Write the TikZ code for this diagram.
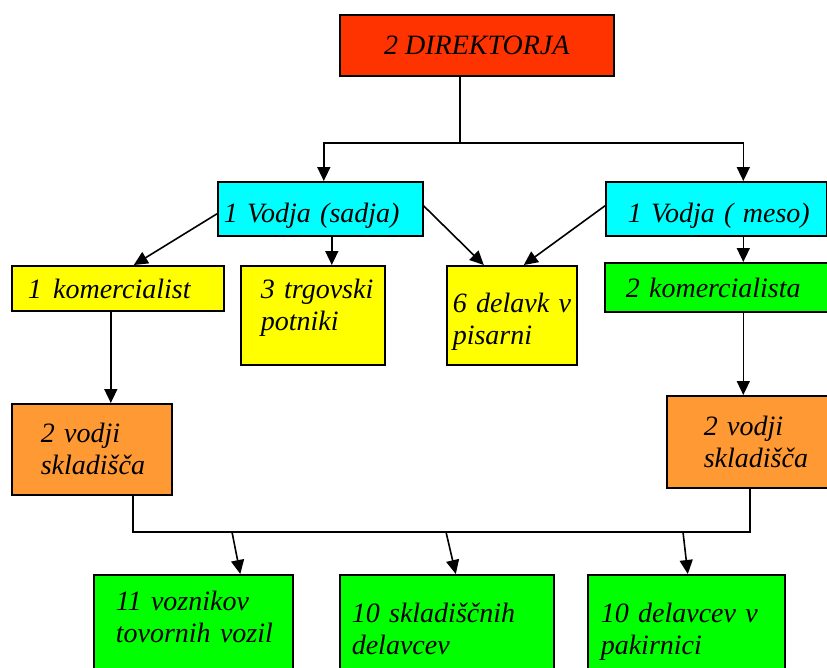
\documentclass[tikz,border=0pt]{standalone}
\usepackage{fontspec}
\setmainfont{Liberation Serif}
\usetikzlibrary{arrows.meta}
\definecolor{dirred}{HTML}{FF3300}
\definecolor{vodcyan}{HTML}{00FFFF}
\definecolor{boxyellow}{HTML}{FFFF00}
\definecolor{boxgreen}{HTML}{00FF00}
\definecolor{boxorange}{HTML}{FF9933}
\tikzset{
  box/.style={draw, line width=1.6pt, anchor=north west, inner ysep=0pt, align=left,
    font=\itshape\fontsize{28}{32}\selectfont},
}
\begin{document}
\begin{tikzpicture}[x=1pt,y=-1pt,line width=1.6pt,>={Triangle[length=14pt,width=13pt]}]
\useasboundingbox (0,0) rectangle (827,667);
\node[box,fill=dirred,align=center,minimum width=274pt,inner xsep=0pt,text height=40pt,text depth=21pt] (dir) at (339,14) {2 DIREKTORJA};
\node[box,fill=vodcyan,text width=193pt,inner xsep=6pt,text height=41pt,text depth=13pt] (vs) at (217,181) {1~Vodja~(sadja)};
\node[box,fill=vodcyan,text width=177pt,inner xsep=22pt,text height=41pt,text depth=13pt] (vm) at (605,181) {1~Vodja~(~meso)};
\node[box,fill=boxyellow,text width=180pt,inner xsep=16pt,text height=33pt,text depth=12pt] (kom1) at (11,265) {1~\hspace{2pt}komercialist};
\node[box,fill=boxyellow,text width=104pt,inner xsep=20pt,text height=33pt,text depth=66pt] (trg) at (240,265) {\mbox{3~trgovski}\\potniki};
\node[box,fill=boxyellow,text width=118pt,inner xsep=6pt,text height=47pt,text depth=52pt] (pis) at (446,265) {6~delavk~v\\pisarni};
\node[box,fill=boxgreen,text width=181pt,inner xsep=21pt,text height=35pt,text depth=14pt] (kom2) at (604,262) {2~komercialista};
\node[box,fill=boxorange,text width=102pt,inner xsep=29pt,text height=39pt,text depth=52pt] (vod1) at (11,403) {2~vodji\\skladišča};
\node[box,fill=boxorange,text width=87pt,inner xsep=37pt,text height=40pt,text depth=52pt] (vod2) at (666,395) {2~vodji\\\mbox{skladišča}};
\node[box,fill=boxgreen,text width=155pt,inner xsep=22pt,text height=36pt,text depth=70pt] (voz) at (93,574) {11~voznikov\\\mbox{tovornih~vozil}};
\node[box,fill=boxgreen,text width=190pt,inner xsep=12pt,text height=48pt,text depth=60pt] (skl) at (339,574) {10~skladiščnih\\delavcev};
\node[box,fill=boxgreen,text width=171pt,inner xsep=13pt,text height=48pt,text depth=60pt] (pak) at (587,574) {10~delavcev~v\\pakirnici};
\coordinate (split) at (460,143);
\draw (dir.south -| split) -- (split);
\draw[->] (split) -| ([xshift=3.5pt]vs.north);
\draw[->] (split) -| ([xshift=27pt]vm.north);
\draw[->] ([yshift=-5pt]vs.west) -- ([xshift=16pt]kom1.north);
\draw[->] ([xshift=11.5pt]vs.south) -- ([xshift=19pt]trg.north);
\draw[->] ([yshift=3pt]vs.east) -- ([xshift=-28pt]pis.north);
\draw[->] ([yshift=3pt]vm.west) -- ([xshift=12pt]pis.north);
\draw[->] ([xshift=27pt]vm.south) -- ([xshift=27pt]kom2.north);
\draw[->] ([xshift=-7pt]kom1.south) -- ([xshift=19pt]vod1.north);
\draw[->] ([xshift=27pt]kom2.south) -- ([xshift=-4pt]vod2.north);
\coordinate (bl) at (133,532);
\coordinate (br) at (750,532);
\draw (vod1.south -| bl) -- (bl) -- (br) -- (vod2.south -| br);
\coordinate (b1) at (232,532);
\coordinate (b2) at (446,532);
\coordinate (b3) at (683,532);
\draw[->] (b1) -- ([xshift=47pt]voz.north);
\draw[->] (b2) -- ([xshift=9pt]skl.north);
\draw[->] (b3) -- ([xshift=1.5pt]pak.north);
\end{tikzpicture}
\end{document}
